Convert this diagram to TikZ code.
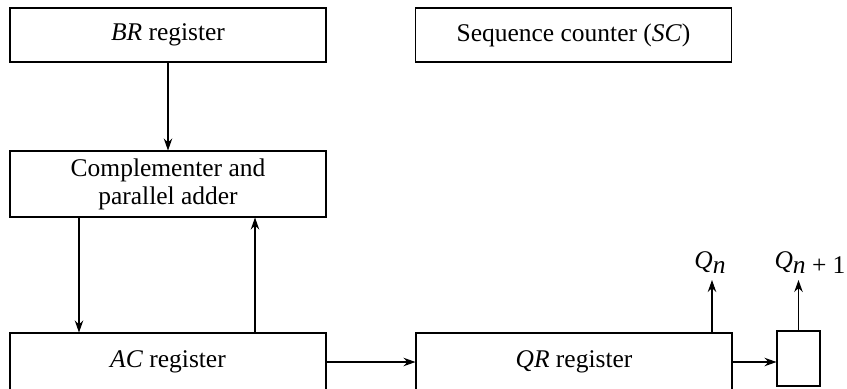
\documentclass[tikz,border=0pt]{standalone}
\usepackage{fontspec}
\setmainfont{Liberation Serif}
\usetikzlibrary{arrows.meta}

\begin{document}
\begin{tikzpicture}[font=\fontsize{14.5}{16}\selectfont]
\tikzstyle{reg}=[draw, rectangle, line width=0.6pt, minimum width=6.32cm, align=center, inner sep=0pt]
\tikzstyle{line}=[draw, line width=0.6pt, -{Stealth[length=2.4mm,width=1.7mm]}]
\tikzstyle{lbl}=[inner sep=0pt, anchor=base]

\useasboundingbox (0,0) rectangle (16.94,-7.76);

% Define registers
\node[reg, minimum height=1.08cm] (br) at (3.36,-0.70) {\textit{BR} register};
\node[reg, minimum height=1.08cm] (sc) at (11.47,-0.70) {Sequence counter (\textit{SC})};
\node[reg, minimum height=1.32cm] (comp) at (3.36,-3.68) {Complementer and\\parallel adder};
\node[reg, minimum height=1.16cm] (ac) at (3.36,-7.24) {\textit{AC} register};
\node[reg, minimum height=1.16cm] (qr) at (11.48,-7.24) {\textit{QR} register};
\node[draw, rectangle, line width=0.6pt, minimum width=0.86cm, minimum height=1.10cm] (qe) at (15.97,-7.17) {};

% Output labels
\node[lbl] (qn) at (14.20,-5.36) {\textit{Q}\raisebox{-0.45ex}{\textit{n}}};
\node[lbl] (qn1) at (16.20,-5.36) {\textit{Q}\raisebox{-0.45ex}{\textit{n} + 1}};

% Data paths
\draw[line] (br) -- (comp);
\draw[line] ([xshift=-1.78cm]comp.south) -- ([xshift=-1.78cm]ac.north);
\draw[line] ([xshift=1.74cm]ac.north) -- ([xshift=1.74cm]comp.south);
\draw[line] (ac.east) -- (qr.west);
\draw[line] (qr.east) -- (qe.west |- qr.east);
\draw[line] ([xshift=2.76cm]qr.north) -- ([xshift=2.76cm,yshift=-0.24cm]qr.north |- qn.base);
\draw[line] (qe.north) -- ([yshift=-0.24cm]qe.north |- qn1.base);
\end{tikzpicture}
\end{document}
